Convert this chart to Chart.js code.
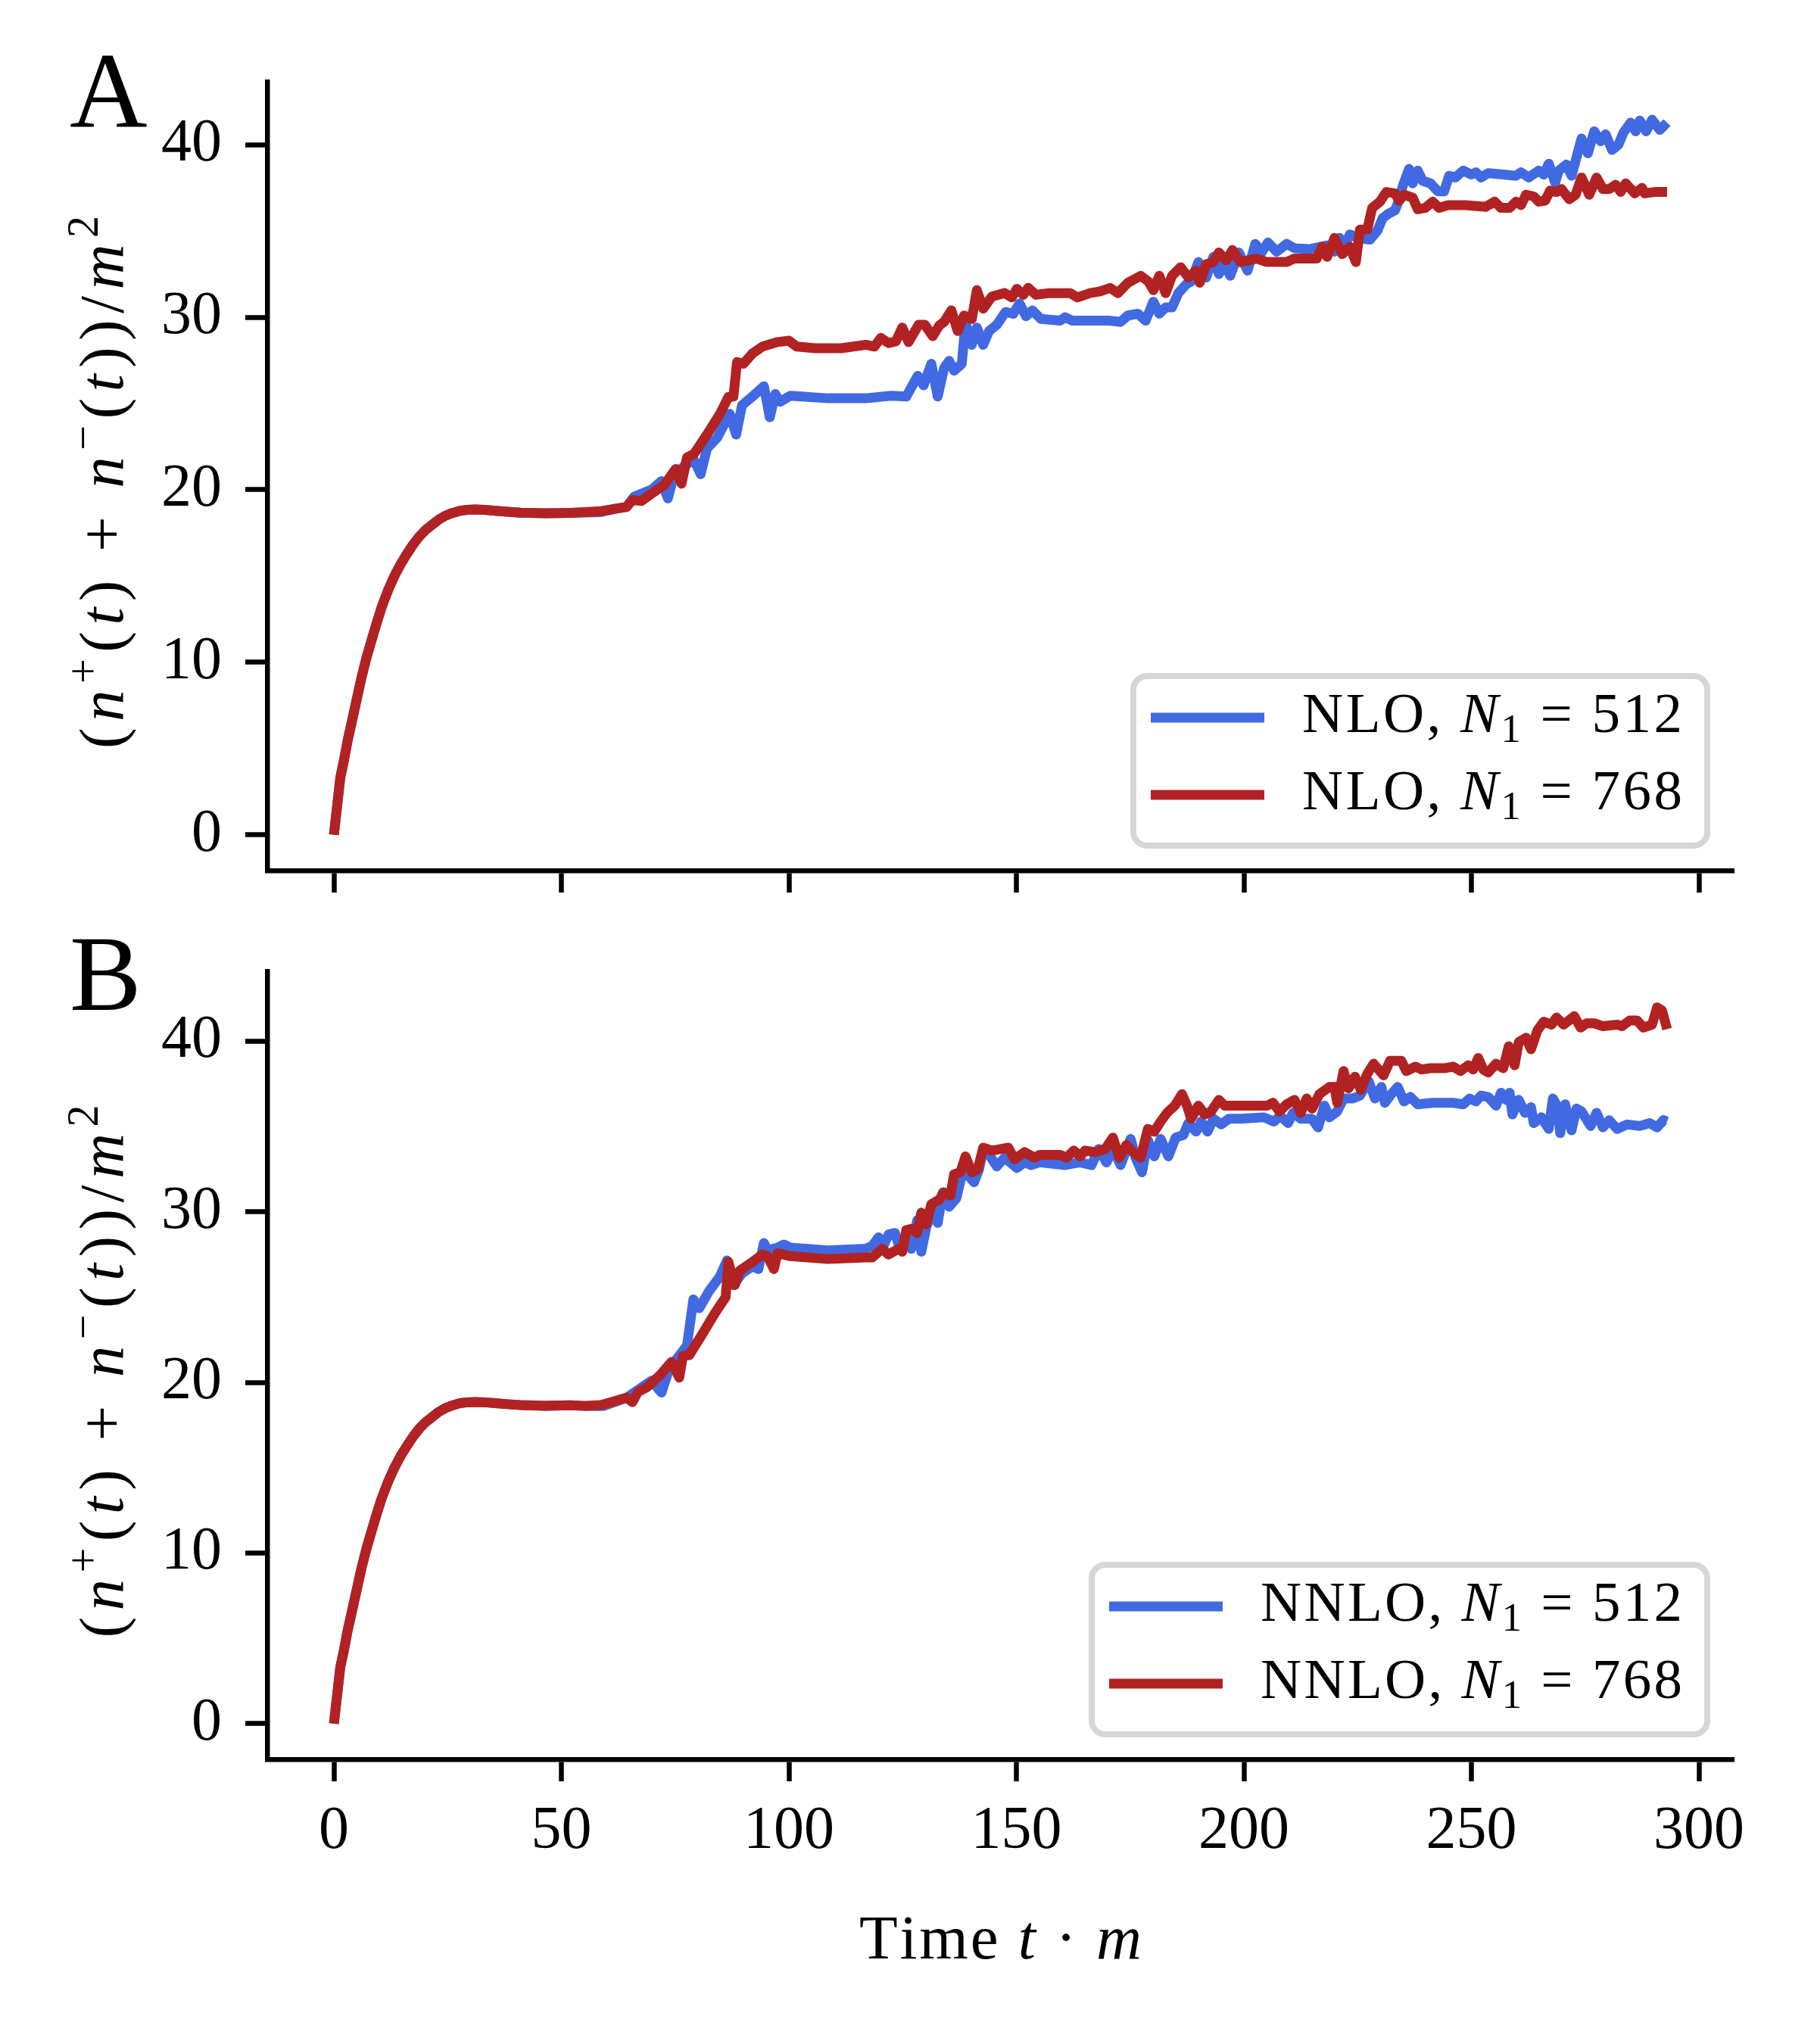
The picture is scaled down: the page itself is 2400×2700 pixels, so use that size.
<!DOCTYPE html>
<html>
<head>
<meta charset="utf-8">
<script src="https://cdn.jsdelivr.net/npm/chart.js"></script>
<style>
  body { margin: 0; background: #fff; }
  #wrap { position: relative; width: 2400px; height: 2700px; background: #fff; }
  canvas { position: absolute; left: 0; }
</style>
</head>
<body>
<div id="wrap">
  <canvas id="chartA" width="2400" height="1230" style="top:0;width:2400px;height:1230px"></canvas>
  <canvas id="chartB" width="2400" height="1510" style="top:1190px;width:2400px;height:1510px"></canvas>
</div>
<script>
// values: [t*m, (n+ + n-)/m^2]
const xTicks = [0, 50, 100, 150, 200, 250, 300];
const yTicks = [0, 10, 20, 30, 40];
const schemes = ['NLO', 'NNLO'];
const sizes = [512, 768];

// early rise, identical in all four runs
const rise = [[0, 0], [1.4, 3.3], [2.2, 4.3], [3.05, 5.5], [3.9, 6.5], [5.0, 7.83], [6.1, 9.15], [7.2, 10.3],
  [8.3, 11.3], [9.4, 12.28], [10.5, 13.2], [11.9, 14.17], [13.3, 15.0], [14.7, 15.7], [16.1, 16.3],
  [17.45, 16.84], [18.8, 17.3], [20.2, 17.68], [21.6, 17.97], [23.0, 18.26], [24.4, 18.48], [26.0, 18.65],
  [27.7, 18.78], [29.3, 18.83], [31.0, 18.85], [33.2, 18.83], [35.5, 18.78], [38.2, 18.72], [41.0, 18.67],
  [46.5, 18.63], [52.0, 18.66]];

const nlo512 = [[55, 18.68], [58.7, 18.7], [62, 18.9], [64.3, 19.0], [66, 19.6], [69.8, 20.0], [72, 20.5],
  [73.4, 19.5], [74.8, 20.9], [77.6, 21.5], [79.2, 21.7], [80.6, 20.9], [82, 22.4], [84.2, 23.0], [87, 24.4],
  [88.4, 23.2], [89.7, 24.9], [92, 25.4], [94.5, 26.0], [95.8, 24.2], [97, 25.55], [98.1, 25.1], [100.3, 25.45],
  [108.6, 25.3], [116.9, 25.3], [122.4, 25.45], [125.8, 25.4], [128.3, 26.6], [129.6, 26.05], [131.3, 27.3],
  [132.7, 25.4], [134.1, 27.05], [135.2, 27.47], [136.3, 26.9], [138, 27.3], [138.8, 29.7], [140.2, 28.4],
  [141.3, 29.4], [142.7, 28.4], [144.0, 29.2], [145.7, 29.56], [147.6, 30.3], [149.3, 30.2], [150.7, 30.8],
  [152.1, 30.06], [153.5, 30.4], [155.4, 29.9], [159.6, 29.8], [160.7, 30.0], [162.3, 29.8], [166.2, 29.8],
  [170.6, 29.8], [172.9, 29.73], [174.5, 30.1], [176.7, 30.2], [178.4, 29.8], [180.1, 30.9], [181.4, 30.2],
  [182.8, 30.57], [184.2, 30.57], [185.6, 31.4], [187.3, 31.9], [188.4, 32.07], [190.0, 33.2], [191.7, 32.3],
  [193.3, 33.5], [194.5, 32.5], [195.6, 33.1], [197, 32.4], [198.9, 33.75], [200.8, 32.7], [202.5, 34.25],
  [203.9, 33.75], [205.3, 34.33], [207.2, 33.8], [209.4, 34.25], [211.1, 34.0], [214.4, 33.95], [218.3, 34.16],
  [219.9, 33.8], [221.0, 34.6], [222.1, 34.16], [223.3, 34.8], [224.9, 34.6], [227.7, 34.5], [229.3, 35.0],
  [230.5, 35.75], [231.8, 36.0], [233.2, 36.2], [234.1, 36.8], [234.9, 37.6], [236.3, 38.6], [237.1, 37.76],
  [238.2, 38.5], [239.3, 37.9], [241.0, 37.76], [242.6, 37.3], [244.0, 37.3], [245.1, 38.2], [246.5, 38.1],
  [248.2, 38.5], [249.9, 38.27], [251.0, 38.4], [252.1, 38.1], [253.7, 38.35], [257.0, 38.27], [259.8, 38.2],
  [260.9, 38.4], [262.6, 38.1], [264.8, 38.5], [265.9, 38.27], [267.0, 38.9], [268.4, 37.8], [269.2, 38.5],
  [270.9, 38.85], [272.0, 38.2], [273.1, 39.27], [274.2, 40.36], [275.6, 39.5], [277.0, 40.78], [278.4, 40.2],
  [279.5, 40.6], [280.9, 39.7], [282.3, 40.0], [283.4, 40.7], [285.0, 41.28], [286.1, 40.78], [287.0, 41.4],
  [288.4, 40.78], [289.7, 41.45], [291.4, 40.86], [293.0, 41.28]];

const nlo768 = [[55, 18.7], [58.7, 18.76], [64.3, 19.0], [65.6, 19.4], [67.6, 19.35], [69.8, 19.77], [72.6, 20.27],
  [75.1, 21.2], [76.4, 20.35], [77.6, 21.86], [79.2, 22.1], [82.0, 23.2], [84.8, 24.37], [86.7, 25.37],
  [87.8, 25.4], [88.6, 27.4], [90.0, 27.3], [92.0, 27.9], [94.2, 28.3], [97.5, 28.56], [100.0, 28.64],
  [101.7, 28.3], [105.8, 28.2], [111.4, 28.2], [116.9, 28.4], [118.8, 28.3], [120.2, 28.8], [121.9, 28.5],
  [123.5, 28.6], [124.9, 29.4], [126.3, 28.56], [128.5, 29.56], [129.9, 29.56], [131.6, 28.9], [133.0, 29.5],
  [134.1, 29.73], [135.7, 30.4], [137.1, 29.2], [138.5, 30.1], [140.2, 29.9], [141.3, 31.57], [142.7, 30.5],
  [144.6, 31.2], [147.4, 31.4], [149.0, 31.15], [150.1, 31.65], [151.5, 31.3], [152.6, 31.7], [154.3, 31.3],
  [157.3, 31.4], [161.8, 31.4], [163.4, 31.15], [166.2, 31.4], [168.4, 31.5], [170.6, 31.7], [172.3, 31.4],
  [174.5, 32.0], [177.3, 32.4], [179.0, 32.07], [180.1, 31.57], [181.4, 32.4], [182.8, 31.4], [184.2, 32.4],
  [186.1, 32.9], [187.8, 32.3], [189.5, 32.7], [190.3, 32.0], [191.7, 33.07], [193.3, 33.2], [194.5, 33.75],
  [196.1, 33.3], [197.5, 33.9], [199.2, 33.2], [202.8, 33.4], [205.0, 33.2], [209.4, 33.2], [211.1, 33.4],
  [214.4, 33.4], [216.0, 33.4], [217.2, 34.08], [218.3, 33.5], [219.9, 34.6], [221.6, 33.66], [223.3, 34.08],
  [224.6, 33.2], [225.5, 35.08], [227.1, 35.08], [228.2, 36.34], [229.9, 36.7], [231.3, 37.26], [233.2, 37.18],
  [234.1, 36.76], [235.2, 37.1], [237.1, 36.93], [238.2, 36.26], [239.9, 36.34], [241.5, 36.7], [242.9, 36.34],
  [244.9, 36.5], [248.7, 36.5], [253.2, 36.4], [255.1, 36.7], [256.5, 36.34], [258.4, 36.34], [259.8, 36.7],
  [260.9, 36.5], [262.0, 37.1], [263.7, 37.0], [264.8, 36.7], [266.2, 36.76], [267.3, 37.34], [268.7, 37.26],
  [269.8, 37.43], [271.5, 36.84], [272.9, 37.1], [274.2, 38.1], [275.9, 37.1], [277.5, 38.1], [278.9, 37.43],
  [280.3, 37.43], [281.7, 37.68], [282.8, 37.26], [283.9, 37.76], [285.9, 37.18], [287.5, 37.5], [288.1, 37.18],
  [290.3, 37.26], [293.0, 37.26]];

const nnlo512 = [[55, 18.62], [59.3, 18.62], [64.3, 19.1], [69.8, 20.1], [72.0, 19.4], [73.7, 20.8], [77.6, 22.15],
  [79.0, 24.86], [80.3, 24.35], [82.5, 25.37], [84.8, 26.2], [86.4, 27.15], [87.8, 25.7], [89.7, 26.4],
  [92.0, 26.8], [93.3, 26.64], [94.5, 28.17], [95.3, 27.74], [97.5, 27.9], [98.9, 28.08], [100.3, 27.9],
  [108.6, 27.74], [116.9, 27.83], [118.3, 28.0], [119.7, 28.5], [120.5, 27.83], [121.9, 28.67], [123.3, 28.76],
  [124.4, 27.83], [125.8, 28.4], [126.9, 27.83], [128.2, 29.5], [129.1, 27.66], [130.2, 29.1], [131.6, 30.1],
  [132.7, 29.35], [133.8, 31.13], [135.2, 30.3], [136.8, 30.8], [138.0, 32.15], [139.3, 32.15], [140.7, 31.73],
  [141.8, 32.5], [142.7, 33.68], [144.0, 33.34], [145.7, 32.66], [147.4, 33.17], [150.1, 32.57], [151.8, 32.9],
  [153.2, 32.74], [155.1, 32.9], [160.7, 32.74], [164.0, 32.9], [166.5, 32.74], [168.1, 33.68], [169.8, 32.9],
  [171.2, 33.68], [172.9, 32.74], [175.1, 34.27], [176.2, 33.17], [177.6, 32.32], [178.9, 34.2], [180.3, 33.25],
  [181.7, 34.27], [183.4, 33.25], [185.0, 34.35], [186.7, 34.5], [187.8, 35.2], [189.5, 34.7], [190.6, 35.29],
  [192.0, 34.7], [193.3, 35.46], [195.0, 35.12], [196.7, 35.46], [199.4, 35.46], [204.4, 35.54], [206.6, 35.29],
  [208.0, 35.63], [209.7, 35.2], [210.8, 35.8], [212.5, 35.46], [214.9, 35.46], [216.3, 34.95], [217.7, 36.22],
  [218.8, 35.54], [220.5, 35.88], [221.9, 36.64], [223.8, 36.64], [225.5, 36.81], [227.4, 37.66], [228.8, 36.64],
  [230.2, 37.32], [231.0, 36.39], [232.4, 36.9], [233.8, 37.32], [235.2, 36.47], [236.6, 36.73], [238.2, 36.3],
  [241.5, 36.39], [246.0, 36.39], [248.2, 36.3], [249.6, 36.64], [251.0, 36.47], [252.1, 36.81], [253.7, 36.73],
  [255.4, 36.22], [256.5, 36.98], [257.6, 36.56], [258.4, 36.98], [259.0, 35.71], [260.4, 36.56], [261.8, 35.8],
  [263.1, 36.13], [263.7, 35.2], [265.4, 35.54], [267.0, 34.86], [267.9, 36.64], [269.0, 36.13], [269.5, 34.61],
  [270.6, 36.3], [272.0, 34.78], [273.1, 36.05], [274.2, 35.88], [276.2, 35.03], [277.5, 35.8], [278.9, 34.95],
  [280.3, 35.37], [282.0, 34.86], [284.2, 35.12], [287.0, 35.03], [289.2, 35.2], [290.8, 34.95], [292.2, 35.37],
  [293.0, 35.29]];

const nnlo768 = [[55, 18.62], [58.7, 18.67], [64.3, 19.1], [65.6, 18.84], [66.8, 19.43], [68.7, 19.7], [71.5, 20.37],
  [74.2, 21.2], [75.9, 20.28], [76.7, 21.55], [78.1, 21.6], [80.9, 22.8], [83.6, 24.0], [86.1, 25.0], [86.7, 27.06],
  [88.1, 25.7], [89.2, 26.55], [92.0, 27.06], [94.2, 27.5], [95.3, 27.4], [96.7, 26.64], [97.5, 27.57],
  [100.3, 27.4], [108.6, 27.23], [116.9, 27.32], [118.3, 27.32], [120.5, 27.83], [121.9, 27.5], [124.1, 27.83],
  [124.9, 27.66], [125.8, 28.93], [126.9, 29.0], [128.2, 28.76], [129.1, 29.95], [130.2, 29.27], [131.3, 30.45],
  [133.0, 30.7], [134.1, 31.13], [135.5, 30.96], [136.3, 32.2], [137.7, 32.32], [138.8, 33.25], [140.2, 32.32],
  [141.5, 32.5], [142.7, 33.76], [144.6, 33.59], [146.5, 33.68], [148.2, 33.76], [149.6, 33.08], [151.8, 33.5],
  [154.0, 33.17], [155.1, 33.34], [159.6, 33.34], [161.0, 33.17], [162.6, 33.59], [164.0, 33.25], [165.1, 33.59],
  [167.3, 33.5], [169.5, 33.68], [171.2, 34.35], [172.6, 33.17], [174.2, 33.93], [175.6, 33.5], [177.3, 33.17],
  [178.9, 34.86], [180.3, 34.7], [181.7, 35.29], [183.1, 35.8], [184.8, 36.22], [186.4, 36.9], [187.5, 36.22],
  [188.4, 35.46], [190.0, 36.22], [191.4, 35.71], [192.8, 35.88], [194.5, 36.56], [195.8, 36.22], [199.4, 36.22],
  [203.3, 36.22], [205.0, 36.22], [206.4, 36.39], [207.8, 35.88], [209.4, 36.3], [211.1, 36.56], [212.5, 35.8],
  [213.8, 36.64], [215.0, 36.05], [216.6, 36.9], [218.8, 37.32], [219.9, 37.32], [220.5, 36.39], [221.9, 38.25],
  [223.0, 37.24], [224.4, 37.92], [225.7, 37.15], [227.1, 38.08], [228.5, 38.68], [230.7, 38.0], [232.1, 38.85],
  [234.6, 38.85], [235.7, 38.25], [237.7, 38.51], [239.0, 38.34], [241.0, 38.42], [244.3, 38.42], [246.0, 38.51],
  [247.6, 38.25], [249.3, 38.59], [250.4, 38.34], [251.5, 39.02], [252.6, 38.34], [253.7, 38.17], [255.4, 38.68],
  [257.0, 38.42], [258.2, 39.7], [259.5, 38.59], [260.4, 39.95], [262.0, 40.2], [263.1, 39.53], [264.5, 40.63],
  [265.9, 41.14], [267.6, 40.97], [268.7, 41.39], [270.3, 40.97], [272.6, 41.47], [274.0, 40.8], [275.3, 41.05],
  [277.0, 41.05], [278.9, 40.88], [282.0, 40.97], [283.1, 40.88], [284.8, 41.22], [286.4, 41.22], [287.8, 40.8],
  [289.7, 40.97], [290.8, 41.98], [291.9, 41.8], [293.0, 40.71]];

const BLUE = '#4169E1';
const RED = '#B22222';
const FONT = '"Liberation Serif", "Times New Roman", serif';

Chart.defaults.font.family = FONT;
Chart.defaults.color = '#000';

// axis titles written as rich segments (italic / super- / subscript)
const yTitle = [{ s: '(' }, { s: 'n', it: true }, { s: '+', up: true }, { s: '(' }, { s: 't', it: true }, { s: ') + ' },
  { s: 'n', it: true }, { s: '\u2212', up: true }, { s: '(' }, { s: 't', it: true }, { s: '))/' },
  { s: 'm', it: true }, { s: '2', up: true }];
const xTitle = [{ s: 'Time ' }, { s: 't', it: true }, { s: ' \u00b7 ' }, { s: 'm', it: true }];

function legendSegs(scheme, n) {
  return [{ s: scheme + ', ' }, { s: 'N', it: true }, { s: '1', dn: true }, { s: ' = ' + n }];
}

function segFont(g, size) {
  const sz = (g.up || g.dn) ? size * 0.7 : size;
  return (g.it ? 'italic ' : '') + sz + 'px ' + FONT;
}

// draws text char by char, stretched to a target width (TeX is wider than Times)
function drawRich(ctx, segs, x, y, size, target, align) {
  let w = 0, n = 0;
  segs.forEach(g => {
    ctx.font = segFont(g, size);
    for (const ch of g.s) { w += ctx.measureText(ch).width; n++; }
  });
  const total = target || w;
  const gap = target ? (target - w) / (n - 1) : 0;
  let cx = align === 'center' ? x - total / 2 : x;
  ctx.textAlign = 'left';
  ctx.textBaseline = 'alphabetic';
  segs.forEach(g => {
    ctx.font = segFont(g, size);
    const dy = g.up ? -size * 0.4 : g.dn ? size * 0.17 : 0;
    for (const ch of g.s) {
      ctx.fillText(ch, cx, y + dy);
      cx += ctx.measureText(ch).width + gap;
    }
  });
}

function roundBox(ctx, x, y, w, h, r) {
  ctx.beginPath();
  ctx.moveTo(x + r, y);
  ctx.arcTo(x + w, y, x + w, y + h, r);
  ctx.arcTo(x + w, y + h, x, y + h, r);
  ctx.arcTo(x, y + h, x, y, r);
  ctx.arcTo(x, y, x + w, y, r);
  ctx.closePath();
}

const decor = {
  id: 'decor',
  afterDraw(chart, args, o) {
    const ctx = chart.ctx;
    const a = chart.chartArea;
    ctx.save();
    ctx.fillStyle = '#000';

    // panel letter
    ctx.font = '142px ' + FONT;
    ctx.textAlign = 'left';
    ctx.textBaseline = 'alphabetic';
    ctx.fillText(o.letter, 92, o.letterY);

    // y axis title
    ctx.save();
    ctx.translate(162, (a.top + a.bottom) / 2 + 8);
    ctx.rotate(-Math.PI / 2);
    drawRich(ctx, yTitle, 0, 0, 83, 704, 'center');
    ctx.restore();

    if (o.showXTitle) {
      drawRich(ctx, xTitle, (a.left + a.right) / 2, a.bottom + 263, 83, 373, 'center');
    }

    // legend, lower right
    const w = 256 + o.textW, h = 224;
    const x0 = a.right - 35 - w, y0 = a.bottom - 33 - h;
    roundBox(ctx, x0, y0, w, h, 18);
    ctx.fillStyle = 'rgba(255,255,255,0.8)';
    ctx.fill();
    ctx.strokeStyle = '#d6d6d6';
    ctx.lineWidth = 8;
    ctx.stroke();
    const rows = [55, 157];
    chart.data.datasets.forEach((ds, i) => {
      const yy = y0 + rows[i];
      ctx.strokeStyle = ds.borderColor;
      ctx.lineWidth = 13;
      ctx.beginPath();
      ctx.moveTo(x0 + 23, yy);
      ctx.lineTo(x0 + 173, yy);
      ctx.stroke();
      ctx.fillStyle = '#000';
      drawRich(ctx, legendSegs(o.scheme, sizes[i]), x0 + 223, yy + 19, 75, o.textW, 'left');
    });
    ctx.restore();
  }
};

function makeChart(id, scheme, blue, red, p) {
  const pts = arr => rise.concat(arr).map(([x, y]) => ({ x, y }));
  return new Chart(document.getElementById(id), {
    type: 'line',
    data: {
      datasets: [
        { label: scheme + ', N\u2081 = ' + sizes[0], data: pts(blue), borderColor: BLUE, order: 1 },
        { label: scheme + ', N\u2081 = ' + sizes[1], data: pts(red), borderColor: RED, order: 0 }
      ]
    },
    plugins: [decor],
    options: {
      responsive: false,
      animation: false,
      devicePixelRatio: 1,
      elements: {
        line: { borderWidth: 13, tension: 0, borderJoinStyle: 'round', borderCapStyle: 'butt', fill: false },
        point: { radius: 0, hoverRadius: 0 }
      },
      layout: { autoPadding: false, padding: { left: 0, right: 110, top: p.top, bottom: 0 } },
      plugins: {
        legend: { display: false },
        tooltip: { enabled: false },
        decor: { letter: p.letter, letterY: p.letterY, showXTitle: p.xLabels, scheme: scheme, textW: p.textW }
      },
      scales: {
        x: {
          type: 'linear',
          min: -14.65,
          max: 307.65,
          afterBuildTicks: s => { s.ticks = xTicks.map(v => ({ value: v })); },
          afterFit: s => { s.height = p.xHeight; },
          ticks: { display: p.xLabels, font: { size: 80 }, color: '#000', padding: 19, maxRotation: 0, autoSkip: false },
          grid: { display: true, drawOnChartArea: false, drawTicks: true, tickLength: 29, tickWidth: 6.5, tickColor: '#000', color: '#000' },
          border: { display: true, color: '#000', width: 6.5 }
        },
        y: {
          type: 'linear',
          min: p.yMin,
          max: p.yMax,
          afterBuildTicks: s => { s.ticks = yTicks.map(v => ({ value: v })); },
          afterFit: s => { s.width = 353; },
          ticks: { font: { size: 80 }, color: '#000', padding: 31 },
          grid: { display: true, drawOnChartArea: false, drawTicks: true, tickLength: 29, tickWidth: 6.5, tickColor: '#000', color: '#000' },
          border: { display: true, color: '#000', width: 6.5 }
        }
      }
    }
  });
}

makeChart('chartA', schemes[0], nlo512, nlo768,
  { top: 108, xHeight: 80, xLabels: false, yMin: -2.08, yMax: 43.65, letter: 'A', letterY: 167, textW: 502 });
makeChart('chartB', schemes[1], nnlo512, nnlo768,
  { top: 93, xHeight: 376, xLabels: true, yMin: -2.1, yMax: 44.1, letter: 'B', letterY: 144, textW: 557 });
</script>
</body>
</html>
